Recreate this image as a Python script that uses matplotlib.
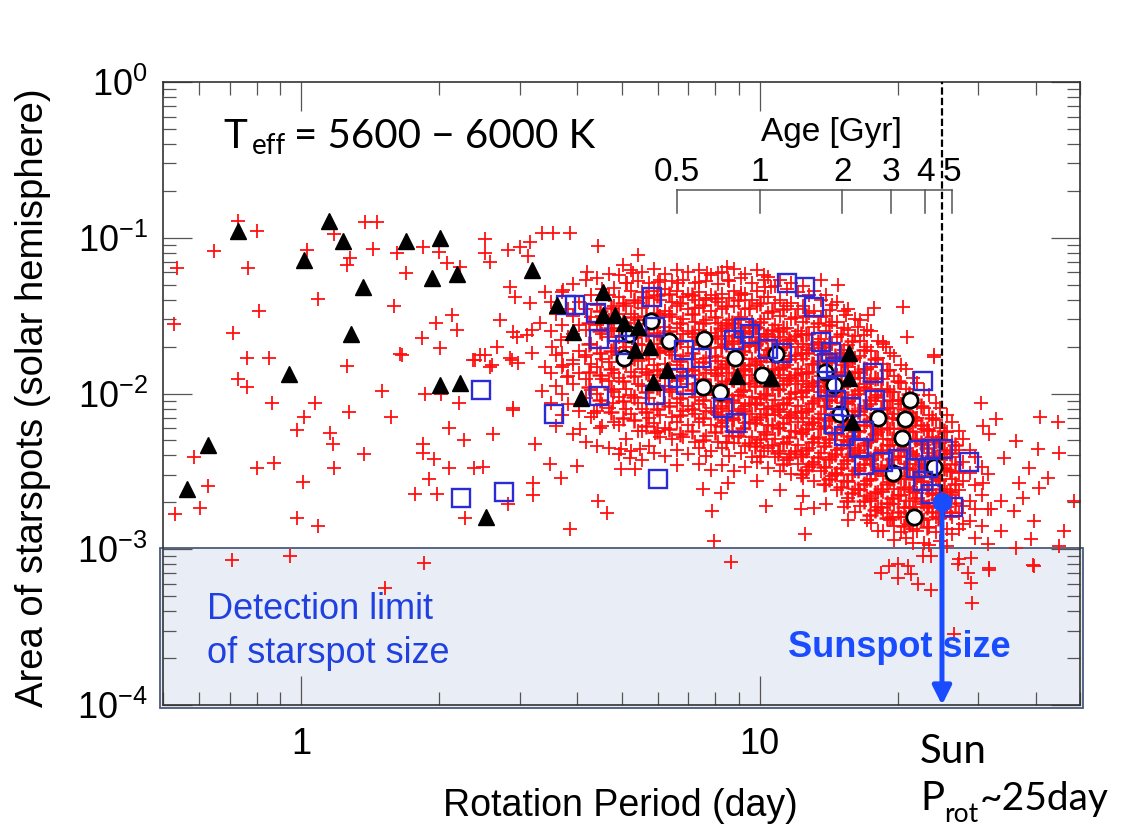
import numpy as np
import matplotlib
matplotlib.use('Agg')
import matplotlib.pyplot as plt
import matplotlib.transforms as mtransforms
from matplotlib.patches import Rectangle
from matplotlib.ticker import LogLocator, NullFormatter

plt.rcParams['font.family'] = ['Liberation Sans', 'DejaVu Sans']
plt.rcParams['mathtext.fontset'] = 'custom'
plt.rcParams['mathtext.rm'] = 'Liberation Sans'
plt.rcParams['mathtext.it'] = 'Liberation Sans:italic'
plt.rcParams['mathtext.bf'] = 'Liberation Sans:bold'

# ── DATA ──────────────────────────────────────────────────────────────

# black triangles: rotation period (day), spot area (solar hemisphere)
tri_period = [0.564, 0.626, 0.729, 1.015, 1.151, 1.235, 1.366, 1.286, 0.942,
              1.696, 2.012, 1.932, 2.191, 2.012, 2.224, 2.535, 3.195, 3.622,
              3.926, 4.087, 4.564, 4.564, 4.850, 5.074, 5.442, 5.361, 5.781,
              6.297, 5.869, 8.95, 10.57, 15.64, 15.64, 15.88]
tri_area = [2.45e-3, 4.70e-3, 0.110, 0.0716, 0.128, 0.095, 0.0481, 0.024,
            0.0134, 0.095, 0.0993, 0.0549, 0.0582, 0.0113, 0.0116, 1.62e-3,
            0.0618, 0.0368, 0.0247, 9.29e-3, 0.0446, 0.0318, 0.0318, 0.0282,
            0.0266, 0.0189, 0.0198, 0.0141, 0.0118, 0.0129, 0.0125, 0.0181,
            0.0125, 6.6e-3]

# open circles
circ_period = [5.81, 5.18, 5.07, 6.36, 7.55, 8.82, 10.10, 10.84, 7.51, 8.22,
               13.87, 14.51, 14.95, 18.10, 21.26, 20.73, 20.42, 19.51, 23.98,
               21.69]
circ_area = [0.0290, 0.0240, 0.0170, 0.0216, 0.0223, 0.0168, 0.01305, 0.0178,
             0.01109, 0.01015, 0.01365, 0.01126, 7.44e-3, 7.01e-3, 9.02e-3,
             6.81e-3, 5.21e-3, 3.10e-3, 3.39e-3, 1.60e-3]

# open blue squares
sq_period = [2.236, 2.775, 2.472, 3.567, 3.790, 3.966, 4.407, 4.474, 4.474,
             4.898, 5.100, 5.928, 5.840, 6.859, 7.470, 6.655, 6.928, 5.928,
             6.018, 8.343, 8.908, 8.818, 9.228, 9.557, 10.46, 11.22, 11.46,
             12.54, 13.12, 13.59, 14.29, 14.01, 14.65, 14.01, 14.65, 15.80,
             14.51, 15.26, 17.65, 17.83, 16.87, 16.45, 16.87, 18.56, 20.01,
             22.70, 22.25, 23.62, 25.09, 21.91, 23.27, 22.70, 23.62, 26.39,
             28.60]
sq_area = [2.14e-3, 2.34e-3, 0.01046, 7.44e-3, 0.0368, 0.0368, 0.0327, 0.0223,
           9.57e-3, 0.0247, 0.0204, 0.0266, 0.0414, 0.0189, 0.0170, 0.0125,
           0.01126, 9.71e-3, 2.84e-3, 8.13e-3, 6.51e-3, 0.0219, 0.0262, 0.0240,
           0.0192, 0.0181, 0.0510, 0.0481, 0.0357, 0.0213, 0.0184, 0.0156,
           0.0149, 0.01093, 9.02e-3, 8.25e-3, 6.41e-3, 5.37e-3, 0.01345,
           9.15e-3, 5.78e-3, 4.49e-3, 3.49e-3, 3.65e-3, 3.82e-3, 0.01195,
           4.36e-3, 4.43e-3, 4.43e-3, 3.30e-3, 3.34e-3, 2.76e-3, 2.27e-3,
           1.88e-3, 3.65e-3]

# red crosses outside the main cloud, as (log10 P, log10 area)
cross_scatter = [
    (-0.138, -0.894), (-0.096, -0.958), (-0.190, -1.087), (-0.271, -1.196),
    (-0.116, -1.196), (0.013, -1.080), (0.072, -0.977), (0.107, -1.132),
    (0.100, -1.177), (0.140, -0.900), (0.166, -0.900), (0.157, -1.074),
    (0.210, -1.100), (0.229, -1.228), (0.037, -1.395), (-0.092, -1.473),
    (-0.277, -1.556), (-0.148, -1.614), (0.203, -1.441), (-0.118, -1.775),
    (-0.070, -1.775), (0.100, -1.826), (0.216, -1.749), (-0.138, -1.904),
    (-0.118, -1.961), (-0.063, -2.064), (0.031, -2.058), (0.007, -2.154),
    (-0.009, -2.232), (0.063, -2.251), (0.070, -2.322), (0.072, -2.476),
    (0.138, -2.386), (-0.059, -2.444), (-0.096, -2.476), (-0.234, -2.405),
    (-0.203, -2.592), (-0.221, -2.733), (-0.275, -2.772), (0.004, -2.566),
    (-0.009, -2.797), (0.037, -2.849), (0.177, -1.987), (0.197, -2.148),
    (0.105, -2.116), (0.271, -2.000), (0.306, -2.000), (0.345, -2.064),
    (0.323, -2.219), (0.356, -2.296), (0.266, -2.322), (0.266, -2.379),
    (0.290, -2.418), (0.323, -2.476), (0.378, -2.476), (0.397, -2.469),
    (0.419, -2.257), (0.463, -2.103), (0.511, -2.322), (0.279, -2.547),
    (0.297, -2.643), (0.249, -2.643), (0.358, -2.797), (0.452, -2.707),
    (0.507, -2.572), (0.507, -2.650), (0.376, -1.788), (0.417, -1.820),
    (0.402, -1.756), (0.461, -1.788), (0.474, -1.807),
    (-0.151, -3.068), (-0.024, -3.042), (0.269, -3.087), (0.183, -3.248),
    (0.266, -1.061), (0.301, -1.093), (0.319, -1.164), (0.347, -1.190),
    (0.402, -1.010), (0.402, -1.100), (0.413, -1.158), (0.452, -1.080),
    (0.478, -1.061), (0.496, -1.119), (0.500, -1.029), (0.526, -0.971),
    (0.550, -0.971), (0.587, -0.971), (0.648, -1.055), (0.456, -1.318),
    (0.467, -1.383), (0.500, -1.421), (0.533, -1.350), (0.572, -1.338),
    (0.624, -1.222), (0.330, -1.498), (0.295, -1.550), (0.341, -1.595),
    (0.264, -1.646), (0.303, -1.711), (0.221, -1.756), (0.434, -1.531),
    (0.463, -1.608), (0.428, -1.704), (0.472, -1.640), (0.493, -1.627),
    (0.504, -1.595), (0.391, -1.756), (0.380, -1.788), (0.413, -1.833),
    (0.456, -1.775), (0.504, -1.743), (0.533, -1.833), (0.548, -1.704),
    (0.566, -1.659), (0.570, -1.833), (0.594, -1.788), (0.620, -1.768),
    (0.463, -2.096), (0.526, -1.981), (0.581, -1.897), (0.638, -2.122),
    (0.681, -2.058), (0.544, -2.450), (0.566, -2.540), (0.603, -2.463),
    (0.648, -2.688), (0.668, -2.765), (0.587, -2.868), (0.697, -2.482),
    (0.729, -2.482), (0.718, -2.412), (0.900, -2.945), (0.897, -2.752),
    (0.932, -2.572), (0.876, -2.611), (0.915, -2.637), (1.015, -2.720),
    (1.090, -2.740), (1.118, -2.733), (1.100, -2.900), (0.609, -2.225),
    (0.653, -2.219), (0.697, -2.354), (0.740, -2.354), (0.773, -2.251),
    (0.572, -1.820), (0.522, -1.550),
    (0.734, -1.113), (0.703, -1.177), (0.723, -1.228), (0.712, -1.293),
    (0.779, -1.286), (0.823, -1.293), (0.867, -1.286), (0.886, -1.228),
    (0.910, -1.228), (0.928, -1.190), (0.932, -1.273), (1.009, -1.241),
    (1.011, -1.318), (0.959, -1.357), (0.884, -1.402), (0.860, -1.453),
    (1.133, -1.273), (1.172, -1.305), (1.153, -1.466), (1.188, -1.498),
    (1.024, -1.318), (1.249, -1.453), (1.236, -1.498), (1.312, -1.447),
    (1.321, -1.640), (1.269, -1.672), (1.275, -1.704), (1.380, -1.756),
    (1.227, -1.627), (1.214, -1.576),
    (1.483, -2.058), (1.515, -2.161), (1.487, -2.206), (1.500, -2.257),
    (1.559, -2.302), (1.611, -2.154), (1.651, -2.180), (1.607, -2.354),
    (1.653, -2.379), (1.533, -2.412), (1.587, -2.476), (1.629, -2.540),
    (1.566, -2.572), (1.609, -2.605), (1.574, -2.669), (1.526, -2.688),
    (1.487, -2.572), (1.504, -2.740), (1.555, -2.752), (1.598, -2.817),
    (1.664, -2.881), (1.686, -2.688), (1.592, -2.932), (1.526, -2.881),
    (1.498, -2.965), (1.598, -3.106), (1.500, -3.119), (1.461, -3.215),
    (1.432, -3.093), (1.380, -1.768),
    (1.264, -3.151), (1.282, -3.106), (1.301, -3.093), (1.323, -3.106),
    (1.303, -3.183), (1.330, -3.158), (1.345, -3.222), (1.373, -3.260),
    (1.356, -3.042), (1.373, -3.042), (1.434, -3.061), (1.461, -3.055),
    (1.454, -3.151), (1.500, -3.132), (1.596, -3.100), (1.559, -2.990),
    (1.653, -2.977), (1.463, -3.344), (1.424, -3.543), (0.937, -3.080),
]

# main cloud: log10 P of each strip, log10 area of the crosses in it
cloud_rows = [
    (0.545, [-1.41, -1.60, -1.87, -2.06]),
    (0.557, [-1.49, -1.75, -1.95, -2.21]),
    (0.569, [-1.35, -1.56, -1.74, -2.00, -2.14]),
    (0.582, [-1.46, -1.64, -1.89, -2.07]),
    (0.594, [-1.30, -1.50, -1.62, -1.81, -1.94, -2.26]),
    (0.607, [-1.41, -1.56, -1.73, -1.87, -2.11]),
    (0.621, [-1.27, -1.46, -1.59, -1.75, -1.91, -2.03, -2.31]),
    (0.632, [-1.37, -1.51, -1.68, -1.81, -1.98, -2.15]),
    (0.646, [-1.26, -1.43, -1.56, -1.71, -1.83, -2.00, -2.11, -2.34]),
    (0.657, [-1.33, -1.50, -1.62, -1.78, -1.91, -2.07, -2.21]),
    (0.671, [-1.23, -1.37, -1.53, -1.64, -1.80, -1.92, -2.09, -2.35]),
    (0.682, [-1.32, -1.44, -1.60, -1.71, -1.87, -1.99, -2.18]),
    (0.694, [-1.24, -1.38, -1.49, -1.64, -1.75, -1.90, -2.02, -2.20, -2.39]),
    (0.709, [-1.29, -1.44, -1.55, -1.70, -1.81, -1.97, -2.10, -2.29]),
    (0.719, [-1.21, -1.34, -1.49, -1.60, -1.75, -1.86, -2.01, -2.13, -2.37]),
    (0.734, [-1.28, -1.42, -1.53, -1.68, -1.79, -1.94, -2.06, -2.24]),
    (0.744, [-1.22, -1.35, -1.45, -1.59, -1.69, -1.84, -1.95, -2.10, -2.24, -2.43]),
    (0.759, [-1.29, -1.39, -1.53, -1.63, -1.78, -1.88, -2.03, -2.16, -2.34]),
    (0.769, [-1.20, -1.34, -1.44, -1.58, -1.68, -1.82, -1.92, -2.07, -2.19, -2.38]),
    (0.784, [-1.27, -1.40, -1.50, -1.64, -1.74, -1.88, -1.98, -2.14, -2.28]),
    (0.794, [-1.23, -1.33, -1.47, -1.57, -1.71, -1.81, -1.95, -2.06, -2.22, -2.40]),
    (0.809, [-1.28, -1.41, -1.51, -1.65, -1.75, -1.89, -1.99, -2.15, -2.29]),
    (0.819, [-1.21, -1.34, -1.44, -1.58, -1.68, -1.82, -1.92, -2.06, -2.18, -2.36, -2.46]),
    (0.834, [-1.27, -1.38, -1.52, -1.62, -1.76, -1.86, -2.00, -2.11, -2.28]),
    (0.844, [-1.22, -1.36, -1.46, -1.60, -1.70, -1.84, -1.94, -2.08, -2.20, -2.39]),
    (0.859, [-1.29, -1.40, -1.54, -1.64, -1.78, -1.88, -2.02, -2.13, -2.31]),
    (0.869, [-1.21, -1.35, -1.45, -1.59, -1.69, -1.83, -1.93, -2.07, -2.18, -2.35, -2.45]),
    (0.884, [-1.28, -1.39, -1.53, -1.63, -1.77, -1.87, -2.01, -2.11, -2.27, -2.40]),
    (0.894, [-1.24, -1.37, -1.47, -1.61, -1.71, -1.85, -1.95, -2.09, -2.20, -2.37, -2.49]),
    (0.909, [-1.30, -1.41, -1.55, -1.65, -1.79, -1.89, -2.03, -2.14, -2.31]),
    (0.919, [-1.22, -1.36, -1.46, -1.60, -1.70, -1.84, -1.94, -2.08, -2.19, -2.35, -2.46]),
    (0.934, [-1.28, -1.39, -1.53, -1.63, -1.77, -1.87, -2.01, -2.11, -2.27, -2.40]),
    (0.944, [-1.20, -1.34, -1.44, -1.58, -1.68, -1.82, -1.92, -2.06, -2.17, -2.32, -2.50]),
    (0.959, [-1.26, -1.37, -1.51, -1.61, -1.75, -1.85, -1.99, -2.10, -2.25, -2.38]),
    (0.969, [-1.23, -1.36, -1.46, -1.60, -1.70, -1.84, -1.94, -2.08, -2.19, -2.34, -2.47]),
    (0.984, [-1.29, -1.40, -1.54, -1.64, -1.78, -1.88, -2.02, -2.13, -2.28, -2.41]),
    (0.994, [-1.21, -1.34, -1.44, -1.58, -1.68, -1.82, -1.92, -2.06, -2.17, -2.32, -2.44, -2.56]),
    (1.009, [-1.27, -1.38, -1.52, -1.62, -1.76, -1.86, -2.00, -2.10, -2.25, -2.37]),
    (1.019, [-1.25, -1.38, -1.48, -1.62, -1.72, -1.86, -1.96, -2.10, -2.20, -2.35, -2.48]),
    (1.034, [-1.31, -1.42, -1.56, -1.66, -1.80, -1.90, -2.04, -2.14, -2.29, -2.41]),
    (1.044, [-1.27, -1.40, -1.50, -1.64, -1.74, -1.88, -1.98, -2.12, -2.22, -2.37, -2.50, -2.62]),
    (1.059, [-1.33, -1.44, -1.58, -1.68, -1.82, -1.92, -2.06, -2.16, -2.31, -2.43]),
    (1.069, [-1.29, -1.42, -1.52, -1.66, -1.76, -1.90, -2.00, -2.14, -2.24, -2.39, -2.52]),
    (1.084, [-1.35, -1.46, -1.60, -1.70, -1.84, -1.94, -2.08, -2.18, -2.33, -2.45]),
    (1.094, [-1.31, -1.44, -1.54, -1.68, -1.78, -1.92, -2.02, -2.16, -2.26, -2.41, -2.54, -2.66]),
    (1.109, [-1.37, -1.48, -1.62, -1.72, -1.86, -1.96, -2.10, -2.20, -2.35, -2.47]),
    (1.119, [-1.34, -1.47, -1.57, -1.71, -1.81, -1.95, -2.05, -2.19, -2.29, -2.44, -2.56]),
    (1.134, [-1.40, -1.51, -1.65, -1.75, -1.89, -1.99, -2.13, -2.23, -2.38, -2.50]),
    (1.144, [-1.37, -1.50, -1.60, -1.74, -1.84, -1.98, -2.08, -2.22, -2.32, -2.47, -2.59, -2.71]),
    (1.159, [-1.43, -1.54, -1.68, -1.78, -1.92, -2.02, -2.16, -2.26, -2.41, -2.53]),
    (1.169, [-1.41, -1.54, -1.64, -1.78, -1.88, -2.02, -2.12, -2.26, -2.36, -2.51, -2.62]),
    (1.184, [-1.47, -1.58, -1.72, -1.82, -1.96, -2.06, -2.20, -2.30, -2.45, -2.56, -2.73]),
    (1.194, [-1.46, -1.59, -1.69, -1.83, -1.93, -2.07, -2.17, -2.31, -2.41, -2.56, -2.67, -2.81]),
    (1.209, [-1.52, -1.63, -1.77, -1.87, -2.01, -2.11, -2.25, -2.35, -2.50, -2.61, -2.76]),
    (1.219, [-1.53, -1.66, -1.76, -1.90, -2.00, -2.14, -2.24, -2.38, -2.48, -2.62, -2.72]),
    (1.234, [-1.59, -1.70, -1.84, -1.94, -2.08, -2.18, -2.32, -2.42, -2.56, -2.66, -2.81]),
    (1.244, [-1.60, -1.73, -1.83, -1.97, -2.07, -2.21, -2.31, -2.45, -2.55, -2.69, -2.83]),
    (1.259, [-1.66, -1.77, -1.91, -2.01, -2.15, -2.25, -2.39, -2.49, -2.63, -2.73, -2.88]),
    (1.269, [-1.68, -1.81, -1.91, -2.05, -2.15, -2.29, -2.39, -2.53, -2.63, -2.77, -2.88]),
    (1.284, [-1.74, -1.85, -1.99, -2.09, -2.23, -2.33, -2.47, -2.57, -2.71, -2.81]),
    (1.294, [-1.76, -1.89, -1.99, -2.13, -2.23, -2.37, -2.47, -2.61, -2.71, -2.85, -2.94]),
    (1.309, [-1.82, -1.93, -2.07, -2.17, -2.31, -2.41, -2.55, -2.65, -2.79, -2.89]),
    (1.319, [-1.84, -1.97, -2.07, -2.21, -2.31, -2.45, -2.55, -2.69, -2.79, -2.93]),
    (1.334, [-1.90, -2.01, -2.15, -2.25, -2.39, -2.49, -2.63, -2.73, -2.87, -2.96]),
    (1.344, [-1.93, -2.06, -2.16, -2.30, -2.40, -2.54, -2.64, -2.78, -2.88]),
    (1.359, [-1.98, -2.09, -2.23, -2.33, -2.47, -2.57, -2.71, -2.81, -2.96]),
    (1.369, [-2.01, -2.14, -2.24, -2.38, -2.48, -2.62, -2.72, -2.86, -2.97]),
    (1.384, [-2.06, -2.17, -2.31, -2.41, -2.55, -2.65, -2.79, -2.89]),
    (1.394, [-2.09, -2.22, -2.32, -2.46, -2.56, -2.70, -2.80, -2.95]),
    (1.409, [-2.14, -2.25, -2.39, -2.49, -2.63, -2.73, -2.87, -2.98]),
    (1.419, [-2.18, -2.31, -2.41, -2.55, -2.65, -2.79, -2.90]),
    (1.434, [-2.24, -2.36, -2.51, -2.62, -2.77, -2.87]),
    (1.444, [-2.29, -2.44, -2.56, -2.72, -2.84]),
    (1.459, [-2.36, -2.51, -2.69, -2.82]),
    (1.469, [-2.41, -2.59, -2.74, -2.93]),
    (1.486, [-2.47, -2.65, -2.85]),
    (1.498, [-2.52, -2.74]),
]

# denser middle of the cloud, same layout
core_rows = [
    (0.627, [-1.55, -1.68, -1.86, -1.96]),
    (0.652, [-1.47, -1.60, -1.74, -1.88, -2.04]),
    (0.677, [-1.45, -1.58, -1.73, -1.84, -1.97, -2.12]),
    (0.702, [-1.42, -1.54, -1.66, -1.79, -1.92, -2.05, -2.16]),
    (0.727, [-1.40, -1.51, -1.64, -1.77, -1.89, -2.02, -2.17]),
    (0.752, [-1.38, -1.50, -1.62, -1.74, -1.86, -1.99, -2.12, -2.21]),
    (0.777, [-1.37, -1.48, -1.61, -1.72, -1.85, -1.96, -2.10, -2.24]),
    (0.802, [-1.36, -1.49, -1.60, -1.73, -1.84, -1.97, -2.08, -2.23]),
    (0.827, [-1.42, -1.55, -1.66, -1.79, -1.90, -2.03, -2.14, -2.26]),
    (0.852, [-1.37, -1.49, -1.61, -1.74, -1.85, -1.98, -2.10, -2.24]),
    (0.877, [-1.43, -1.55, -1.67, -1.80, -1.91, -2.04, -2.16, -2.30]),
    (0.902, [-1.39, -1.51, -1.63, -1.76, -1.87, -2.00, -2.12, -2.25]),
    (0.927, [-1.44, -1.56, -1.68, -1.81, -1.92, -2.05, -2.17, -2.31]),
    (0.952, [-1.40, -1.52, -1.64, -1.77, -1.88, -2.01, -2.13, -2.27]),
    (0.977, [-1.45, -1.57, -1.69, -1.82, -1.93, -2.06, -2.18, -2.32]),
    (1.002, [-1.42, -1.54, -1.66, -1.79, -1.90, -2.03, -2.15, -2.29, -2.40]),
    (1.027, [-1.47, -1.59, -1.71, -1.84, -1.95, -2.08, -2.20, -2.33]),
    (1.052, [-1.46, -1.58, -1.70, -1.83, -1.94, -2.07, -2.19, -2.32, -2.45]),
    (1.077, [-1.51, -1.63, -1.75, -1.88, -1.99, -2.12, -2.24, -2.37]),
    (1.102, [-1.50, -1.62, -1.74, -1.87, -1.98, -2.11, -2.23, -2.36, -2.49]),
    (1.127, [-1.55, -1.67, -1.79, -1.92, -2.03, -2.16, -2.28, -2.41]),
    (1.152, [-1.56, -1.68, -1.80, -1.93, -2.04, -2.17, -2.29, -2.42, -2.55]),
    (1.177, [-1.62, -1.74, -1.86, -1.99, -2.10, -2.23, -2.35, -2.48, -2.60]),
    (1.202, [-1.66, -1.78, -1.90, -2.03, -2.14, -2.27, -2.39, -2.52, -2.64]),
    (1.227, [-1.72, -1.84, -1.96, -2.09, -2.20, -2.33, -2.45, -2.58, -2.69]),
    (1.252, [-1.78, -1.90, -2.02, -2.15, -2.26, -2.39, -2.51, -2.64, -2.75]),
    (1.277, [-1.85, -1.97, -2.09, -2.22, -2.33, -2.46, -2.58, -2.70, -2.80]),
    (1.302, [-1.92, -2.04, -2.16, -2.29, -2.40, -2.53, -2.65, -2.76]),
    (1.327, [-2.00, -2.12, -2.24, -2.37, -2.48, -2.61, -2.73, -2.84]),
    (1.352, [-2.08, -2.20, -2.32, -2.45, -2.56, -2.69, -2.80]),
    (1.377, [-2.16, -2.28, -2.40, -2.53, -2.64, -2.76]),
    (1.402, [-2.24, -2.36, -2.48, -2.61, -2.72]),
    (1.427, [-2.33, -2.45, -2.58, -2.70]),
]

# most crowded part, 8-26 day
dense_rows = [
    (0.915, [-1.58, -1.70, -1.83, -1.97, -2.09, -2.21]),
    (0.940, [-1.55, -1.66, -1.79, -1.91, -2.04, -2.16, -2.24]),
    (0.965, [-1.61, -1.73, -1.85, -1.98, -2.11, -2.22]),
    (0.990, [-1.57, -1.69, -1.81, -1.95, -2.07, -2.19, -2.34]),
    (1.015, [-1.63, -1.75, -1.88, -2.01, -2.13, -2.26]),
    (1.040, [-1.60, -1.72, -1.84, -1.97, -2.10, -2.22, -2.38]),
    (1.065, [-1.65, -1.78, -1.90, -2.03, -2.15, -2.28, -2.41]),
    (1.090, [-1.62, -1.74, -1.87, -1.99, -2.12, -2.25, -2.39, -2.52]),
    (1.115, [-1.68, -1.81, -1.93, -2.06, -2.18, -2.31, -2.45]),
    (1.140, [-1.70, -1.83, -1.95, -2.08, -2.21, -2.34, -2.47, -2.58]),
    (1.165, [-1.76, -1.88, -2.01, -2.14, -2.26, -2.39, -2.52]),
    (1.190, [-1.80, -1.92, -2.05, -2.18, -2.30, -2.43, -2.56, -2.69]),
    (1.215, [-1.86, -1.98, -2.11, -2.24, -2.36, -2.49, -2.61]),
    (1.240, [-1.92, -2.04, -2.17, -2.30, -2.42, -2.55, -2.67, -2.78]),
    (1.265, [-1.97, -2.10, -2.23, -2.36, -2.48, -2.61, -2.73]),
    (1.290, [-2.04, -2.16, -2.29, -2.42, -2.54, -2.67, -2.79]),
    (1.315, [-2.10, -2.22, -2.35, -2.48, -2.60, -2.73, -2.85]),
    (1.340, [-2.17, -2.29, -2.42, -2.55, -2.67, -2.79]),
    (1.365, [-2.23, -2.35, -2.48, -2.61, -2.73, -2.86]),
    (1.390, [-2.30, -2.42, -2.55, -2.68, -2.80]),
    (1.415, [-2.38, -2.50, -2.63, -2.76]),
]

# the Sun
sun_period = 25.0
sunspot_area = 2.0e-3

# age scale on top (gyrochronology, P = 10 day * t^0.6)
age_ticks = [0.5, 1, 2, 3, 4, 5]
age_labels = ['0.5', '1', '2', '3', '4', '5']

# ── BUILD ARRAYS ──────────────────────────────────────────────────────


def unpack(rows):
    lp, la = [], []
    for p, areas in rows:
        lp += [p] * len(areas)
        la += areas
    return 10 ** np.array(lp), 10 ** np.array(la)


outer_period, outer_area = unpack([(p, [a]) for p, a in cross_scatter] + cloud_rows)
inner_period, inner_area = unpack(core_rows + dense_rows)

age_period = [10.0 * t ** 0.6 for t in age_ticks]

# ── FIGURE ────────────────────────────────────────────────────────────

W, H = 1136, 827


def fx(x):
    return x / W


def fy(y):
    return 1 - y / H


fig = plt.figure(figsize=(W / 100, H / 100), dpi=100)
ax = fig.add_axes([fx(163), fy(705), fx(1080) - fx(163), fy(82) - fy(705)])
ax.set_xscale('log')
ax.set_yscale('log')
ax.set_xlim(0.5, 50)
ax.set_ylim(1e-4, 1)

# detection limit band
ax.add_patch(Rectangle((-0.003, -0.005), 1.006, 0.257,
                       transform=ax.transAxes, clip_on=False,
                       facecolor='#e9edf5', edgecolor='#4a5b7c',
                       lw=1.3, zorder=0.5))

ax.plot(outer_period, outer_area, '+', ls='none', color='#ff1010',
        ms=10, mew=1.3, zorder=2)
ax.plot(inner_period, inner_area, '+', ls='none', color='#ff1010',
        ms=11, mew=1.8, zorder=2)
ax.plot(circ_period, circ_area, 'o', ls='none', mfc='white', mec='black',
        ms=11, mew=2.0, zorder=3)
ax.plot(sq_period, sq_area, 's', ls='none', mfc='none', mec='#2a2ad8',
        ms=13, mew=1.7, zorder=4)
ax.plot(tri_period, tri_area, '^', ls='none', color='black',
        ms=12, zorder=5)

# Sun: dashed guide and sunspot size arrow
ax.plot([sun_period, sun_period], [sunspot_area, 1], color='black',
        lw=1.6, ls=(0, (3.3, 1.4)), zorder=6)
ax.annotate('', xy=(sun_period, 1e-4), xytext=(sun_period, sunspot_area),
            arrowprops=dict(arrowstyle='-|>', color='#1a4cff', lw=3.6,
                            mutation_scale=28, shrinkA=0, shrinkB=0),
            annotation_clip=False, zorder=7)
ax.plot(sun_period, sunspot_area, 'o', color='#1a4cff', ms=13, zorder=8)

# ticks
ax.xaxis.set_minor_locator(LogLocator(base=10, subs=np.arange(2, 10), numticks=20))
ax.yaxis.set_minor_locator(LogLocator(base=10, subs=np.arange(2, 10), numticks=20))
ax.xaxis.set_minor_formatter(NullFormatter())
ax.yaxis.set_minor_formatter(NullFormatter())
ax.set_xticks([1, 10], ['1', '10'])
ax.set_yticks([1e-4, 1e-3, 1e-2, 1e-1, 1],
              ['$10^{-4}$', '$10^{-3}$', '$10^{-2}$', '$10^{-1}$', '$10^{0}$'])
ax.tick_params(which='both', direction='in', top=True, right=True,
               color='#555555', width=0.9, labelsize=26)
ax.tick_params(which='major', length=21)
ax.tick_params(which='minor', length=9.5)
ax.tick_params(axis='x', pad=16)
ax.tick_params(axis='y', pad=11)
for spine in ax.spines.values():
    spine.set_color('#333333')
    spine.set_linewidth(1.2)

# age scale
trans = mtransforms.blended_transform_factory(ax.transData, ax.transAxes)
y_bar, y_tick = 0.8266, 0.7897
ax.plot([age_period[0], age_period[-1]], [y_bar, y_bar], transform=trans,
        color='#555555', lw=1.1, zorder=6)
for p, lab in zip(age_period, age_labels):
    ax.plot([p, p], [y_bar, y_tick], transform=trans, color='#555555',
            lw=1.1, zorder=6)
    ax.text(p, 0.8555, lab, transform=trans, ha='center', va='center',
            fontsize=24)
fig.text(fx(831), fy(132), 'Age [Gyr]', ha='center', va='center', fontsize=24)

# axis labels
fig.text(fx(620), fy(816), 'Rotation Period (day)', ha='center',
         va='baseline', fontsize=27)
fig.text(fx(33), fy(398), 'Area of starspots (solar hemisphere)',
         rotation=90, ha='center', va='center', fontsize=27.5)

calib = ['Lato', 'DejaVu Sans']
fig.text(fx(223), fy(148), 'T', family=calib, fontsize=29, va='baseline')
fig.text(fx(252), fy(154), 'eff', family=calib, fontsize=20, va='baseline')
fig.text(fx(294), fy(148), '= 5600 \u2212 6000 K', family=calib,
         fontsize=29, va='baseline')

fig.text(fx(920), fy(763), 'Sun', family=calib, fontsize=29, va='baseline')
fig.text(fx(920), fy(810), 'P', family=calib, fontsize=29, va='baseline')
fig.text(fx(944), fy(822), 'rot', family=calib, fontsize=19, va='baseline')
fig.text(fx(980), fy(810), '~25day', family=calib, fontsize=28,
         va='baseline')

fig.text(fx(207), fy(619), 'Detection limit', color='#2040e0',
         fontsize=26, va='baseline')
fig.text(fx(207), fy(663), 'of starspot size', color='#2040e0',
         fontsize=26, va='baseline')
fig.text(fx(788), fy(657), 'Sunspot size', color='#1a4cff',
         fontsize=26, fontweight='bold', va='baseline')

fig.savefig('out.png', dpi=100, facecolor='white')
